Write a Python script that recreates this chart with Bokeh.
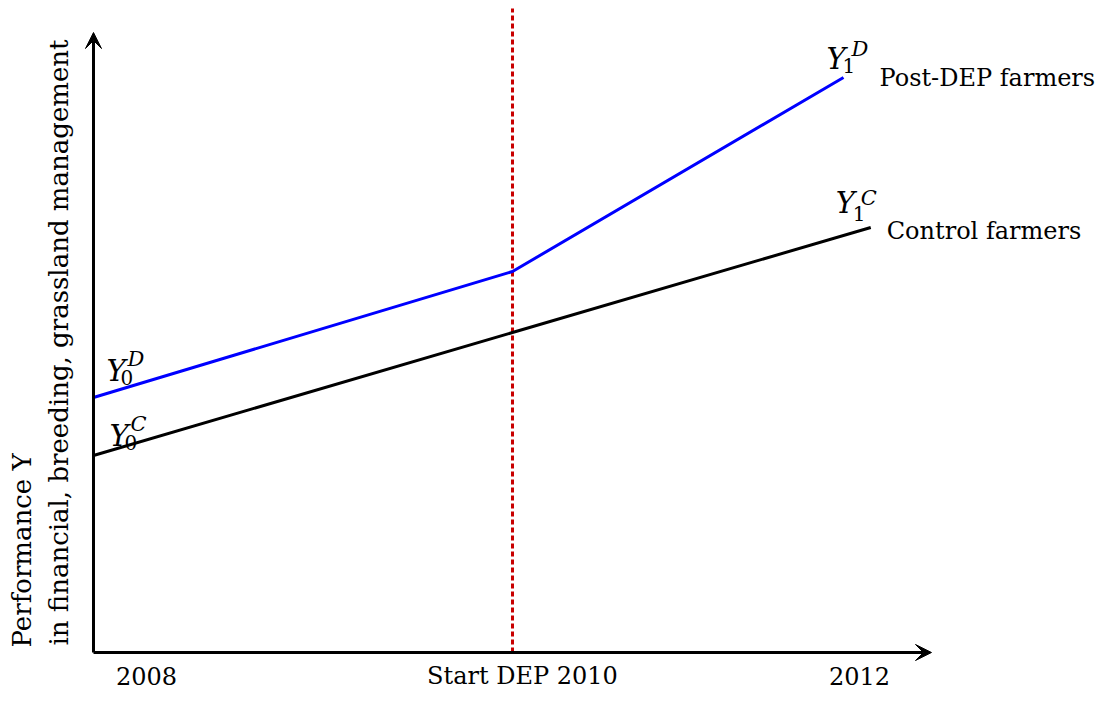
from bokeh.plotting import figure
from bokeh.models import Arrow, VeeHead, Range1d
from bokeh.core.properties import value
from bokeh.embed import file_html
from bokeh.resources import INLINE

# ---- data ----
years_ctrl = [2008, 2010, 2011.71]
perf_ctrl = [1.97, 3.20, 4.25]
years_dep = [2008, 2010, 2011.58]
perf_dep = [2.55, 3.81, 5.75]
tick_years = [2008, 2010, 2012]
tick_labels = ["2008", "Start DEP 2010", "2012"]
series_names = ["Post-DEP farmers", "Control farmers"]
start_year = 2010
y_axis_top = 6.2
x_axis_end = 2012
ylabel_lines = ["Performance Y", "in financial, breeding, grassland management"]

FONT = value("DejaVu Serif")

p = figure(width=1100, height=690,
           x_range=Range1d(2007.5561, 2012.8067),
           y_range=Range1d(-0.38, 6.52),
           output_backend="svg", toolbar_location=None,
           x_axis_location=None, y_axis_location=None,
           min_border=0, outline_line_color=None)
p.grid.visible = False
p.background_fill_color = "white"

# dotted start line
p.segment(x0=[start_year], y0=[0], x1=[start_year], y1=[6.44],
          line_color="#C80000", line_width=3, line_dash="5 3")

# series lines
p.line(years_ctrl, perf_ctrl, line_color="black", line_width=3)
p.line(years_dep, perf_dep, line_color="#0000FF", line_width=3)

# axes as arrows
p.add_layout(Arrow(x_start=2008, y_start=0, x_end=2008, y_end=y_axis_top,
                   line_color="black", line_width=3,
                   end=VeeHead(size=16, fill_color="black", line_color="black", line_width=1)))
p.add_layout(Arrow(x_start=2008, y_start=0, x_end=x_axis_end, y_end=0,
                   line_color="black", line_width=3,
                   end=VeeHead(size=16, fill_color="black", line_color="black", line_width=1)))

# tick labels
p.text(x=tick_years, y=[0, 0, 0], text=tick_labels,
       x_offset=[53, 10, -72], y_offset=[23, 23, 23],
       text_align="center", text_baseline="middle",
       text_font=FONT, text_font_size="24px", text_color="black")

# y axis label (two rotated lines)
p.text(x=[2007.6611, 2007.8330], y=[0.05, 0.07], text=ylabel_lines,
       angle=1.5708, text_align="left", text_baseline="alphabetic",
       text_font=FONT, text_font_size="26px", text_color="black")

# series names
p.text(x=[years_dep[-1], years_ctrl[-1]], y=[perf_dep[-1], perf_ctrl[-1]],
       text=series_names, x_offset=[36, 16], y_offset=[0, 3],
       text_align="left", text_baseline="middle",
       text_font=FONT, text_font_size="24px", text_color="black")


def math_label(x, y, sub, sup, off_base, off_sub, off_sup):
    p.text(x=[x], y=[y], text=["Y"], x_offset=off_base[0], y_offset=off_base[1],
           text_align="left", text_baseline="alphabetic", text_font=FONT,
           text_font_style="italic", text_font_size="29px", text_color="black")
    p.text(x=[x], y=[y], text=[sub], x_offset=off_sub[0], y_offset=off_sub[1],
           text_align="left", text_baseline="alphabetic", text_font=FONT,
           text_font_size="20px", text_color="black")
    p.text(x=[x], y=[y], text=[sup], x_offset=off_sup[0], y_offset=off_sup[1],
           text_align="left", text_baseline="alphabetic", text_font=FONT,
           text_font_style="italic", text_font_size="21px", text_color="black")


math_label(years_dep[0], perf_dep[0], "0", "D", (13, -27), (27, -20), (34, -39))
math_label(years_ctrl[0], perf_ctrl[0], "0", "C", (16, -20), (31, -13), (37, -32))
math_label(years_dep[-1], perf_dep[-1], "1", "D", (-17, -19), (-1, -12), (8, -29))
math_label(years_ctrl[-1], perf_ctrl[-1], "1", "C", (-35, -25), (-18, -14), (-10, -30))

open("out.html", "w").write(file_html(p, INLINE))
